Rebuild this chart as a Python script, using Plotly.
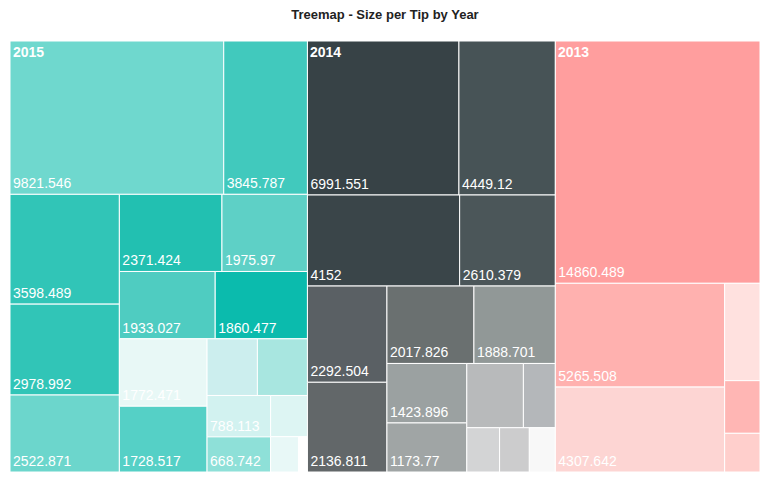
import plotly.graph_objects as go

years = ["2015", "2014", "2013"]

# tip sizes per year (unlabelled tiles estimated from their area)
tips_2015 = [9821.546, 3845.787, 3598.489, 2978.992, 2522.871, 2371.424, 1975.97,
             1933.027, 1860.477, 1772.471, 1728.517, 855, 850, 788.113, 668.742,
             455, 295, 95]
tips_2014 = [6991.551, 4449.12, 4152, 2610.379, 2292.504, 2136.811, 2017.826,
             1888.701, 1423.896, 1173.77, 1090, 615, 435, 395, 345]
tips_2013 = [14860.489, 5265.508, 4307.642, 1032, 558, 410]

# 1 = the value is printed on the tile in the reference
shown_2015 = [1, 1, 1, 1, 1, 1, 1, 1, 1, 1, 1, 0, 0, 1, 1, 0, 0, 0]
shown_2014 = [1, 1, 1, 1, 1, 1, 1, 1, 1, 1, 0, 0, 0, 0, 0]
shown_2013 = [1, 1, 1, 0, 0, 0]

colors_2015 = ["#6FD8CE", "#41C9BD", "#31C5B7", "#31C5B7", "#6CD6CC", "#22C0B1", "#5ED0C6",
               "#4FCCC1", "#0BBBAD", "#E8F8F6", "#55D0C6", "#CCEEEE", "#A8E6E0", "#D2F2F0",
               "#8EE0D8", "#DDF5F3", "#E8F8F7", "#FFFFFF"]
colors_2014 = ["#374246", "#475356", "#3A4549", "#4B5659", "#5A6064", "#626769", "#6A7070",
               "#919897", "#9BA1A1", "#A0A5A5", "#B8BABB", "#B4B7BA", "#D3D4D5", "#CCCCCD",
               "#F8F8F8"]
colors_2013 = ["#FF9E9E", "#FFB1AF", "#FDD5D3", "#FFE1DF", "#FFB6B4", "#FFCFCC"]


def fmt(v):
    return ("%.3f" % v).rstrip("0").rstrip(".")


ids, labels, parents, values, texts, colors = [], [], [], [], [], []
groups = [(tips_2015, colors_2015, shown_2015),
          (tips_2014, colors_2014, shown_2014),
          (tips_2013, colors_2013, shown_2013)]

for year, (tips, cols, shown) in zip(years, groups):
    ids.append(year)
    labels.append(year)
    parents.append("")
    values.append(sum(tips))
    texts.append("")
    colors.append(cols[0])
    for i, (v, c, s) in enumerate(zip(tips, cols, shown)):
        ids.append(year + "-" + str(i))
        labels.append(fmt(v))
        parents.append(year)
        values.append(v)
        texts.append(fmt(v) if s else "")
        colors.append(c)

fig = go.Figure(go.Treemap(
    ids=ids,
    labels=labels,
    parents=parents,
    values=values,
    text=texts,
    textinfo="text",
    branchvalues="total",
    textposition="bottom left",
    marker=dict(colors=colors, line=dict(color="white", width=1),
                pad=dict(t=0, l=0, r=0, b=0)),
    textfont=dict(family="Liberation Sans, Arial", size=14, color="white"),
    pathbar=dict(visible=False),
    tiling=dict(pad=0),
    hoverinfo="label+value",
))

# year labels sit at the top-left corner of each year's column;
# the columns are laid out side by side in proportion to the year totals
totals = [sum(g[0]) for g in groups]
grand = sum(totals)
start = 0
for year, tot in zip(years, totals):
    fig.add_annotation(x=start / grand, y=1, xref="paper", yref="paper",
                       xanchor="left", yanchor="top", xshift=1, yshift=-1,
                       text="<b>" + year + "</b>", showarrow=False,
                       font=dict(family="Liberation Sans, Arial", size=14, color="white"))
    start += tot

fig.update_layout(
    width=754, height=464,
    margin=dict(l=2, r=2, t=33, b=0),
    title=dict(text="<b>Treemap - Size per Tip by Year</b>", x=0.5, xanchor="center",
               y=1, yanchor="top", pad=dict(t=2),
               font=dict(family="Liberation Sans, Arial", size=13, color="#222222")),
    paper_bgcolor="white",
)

fig.write_html("out.html")
